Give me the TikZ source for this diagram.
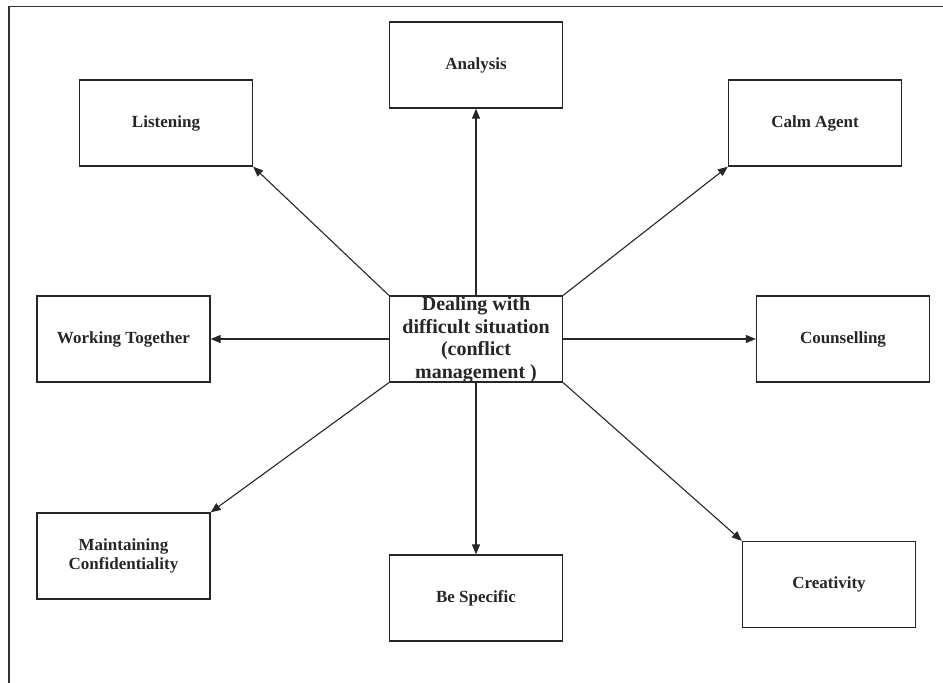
\documentclass[tikz,border=0pt]{standalone}
\usepackage{fontspec}
\setmainfont{Liberation Serif}
\usetikzlibrary{arrows.meta}
\begin{document}
\begin{tikzpicture}[x=1pt,y=-1pt,
  box/.style={draw=black!85,line width=1.3pt,minimum width=173pt,minimum height=86pt,
    inner sep=0pt,align=center,font=\fontsize{17}{19}\selectfont\bfseries,text=black!85},
  hub/.style={box,font=\fontsize{20}{22.5}\selectfont\bfseries},
  link/.style={draw=black!85,line width=1.1pt,-{Triangle[length=10pt,width=8pt]}}]
\useasboundingbox (0,0) rectangle (943,683);
% page frame
\draw[black!80,line width=1.6pt] (9,683) -- (9,6.5) -- (943,6.5);
% centre box: the text block is smashed so the box keeps its size
\node[hub] (c) at (476,339) {\raisebox{-12pt}{\smash{\begin{tabular}{@{}c@{}}Dealing with\\difficult situation\\(conflict\\management )\end{tabular}}}};
% surrounding boxes
\node[box] (an) at (476,65) {Analysis};
\node[box] (li) at (166,123) {Listening};
\node[box] (ca) at (815,123) {Calm Agent};
\node[box] (wt) at (123.5,339) {Working Together};
\node[box] (co) at (843,339) {Counselling};
\node[box] (mc) at (123.5,556) {Maintaining\\Confidentiality};
\node[box] (bs) at (476,598) {Be Specific};
\node[box] (cr) at (829,584.5) {Creativity};
% connectors
\draw[link] (c.north) -- (an.south);
\draw[link] (c.north west) -- (li.south east);
\draw[link] (c.north east) -- (ca.south west);
\draw[link] (c.west) -- (wt.east);
\draw[link] (c.east) -- (co.west);
\draw[link] (c.south west) -- (mc.north east);
\draw[link] (c.south) -- (bs.north);
\draw[link] (c.south east) -- (cr.north west);
\end{tikzpicture}
\end{document}
